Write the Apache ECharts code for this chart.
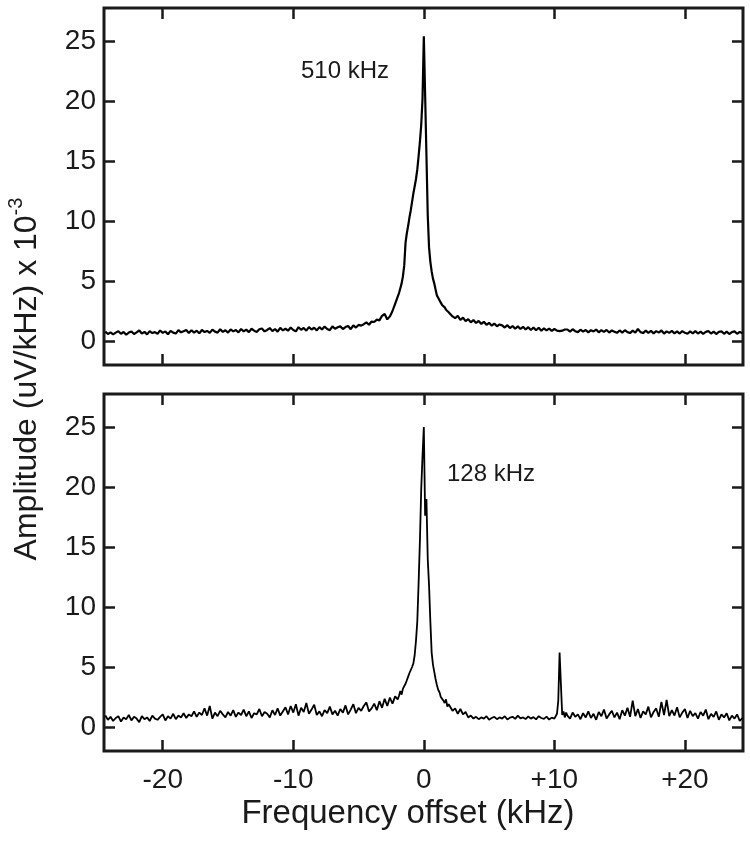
<!DOCTYPE html>
<html>
<head>
<meta charset="utf-8">
<script src="https://cdn.jsdelivr.net/npm/echarts@6/dist/echarts.min.js"></script>
<style>
  html, body { margin: 0; padding: 0; background: #fff; }
  #chart { width: 750px; height: 842px; }
</style>
</head>
<body>
<div id="chart"></div>
<script>
// frequency offset (kHz), finer sampling around the two peaks
const freqKHz = [
  -24.4,-24.2,-24,-23.8,-23.6,-23.4,-23.2,-23,-22.8,-22.6,
  -22.4,-22.2,-22,-21.8,-21.6,-21.4,-21.2,-21,-20.8,-20.6,
  -20.4,-20.2,-20,-19.8,-19.6,-19.4,-19.2,-19,-18.8,-18.6,
  -18.4,-18.2,-18,-17.8,-17.6,-17.4,-17.2,-17,-16.8,-16.6,
  -16.4,-16.2,-16,-15.8,-15.6,-15.4,-15.2,-15,-14.8,-14.6,
  -14.4,-14.2,-14,-13.8,-13.6,-13.4,-13.2,-13,-12.8,-12.6,
  -12.4,-12.2,-12,-11.8,-11.6,-11.4,-11.2,-11,-10.8,-10.6,
  -10.4,-10.2,-10,-9.8,-9.6,-9.4,-9.2,-9,-8.8,-8.6,
  -8.4,-8.2,-8,-7.8,-7.6,-7.4,-7.2,-7,-6.8,-6.6,
  -6.4,-6.2,-6,-5.8,-5.6,-5.4,-5.2,-5,-4.8,-4.6,
  -4.4,-4.2,-4,-3.8,-3.6,-3.4,-3.2,-3,-2.8,-2.6,
  -2.4,-2.2,-2,
  -1.9,-1.8,-1.7,-1.6,-1.5,-1.4,-1.3,-1.2,-1.1,-1,
  -0.9,-0.8,-0.7,-0.6,-0.5,-0.4,-0.3,-0.2,-0.1,0,
  0.1,0.2,0.3,0.4,0.5,0.6,0.7,0.8,0.9,1,
  1.1,1.2,1.3,1.4,1.5,1.6,1.7,1.8,1.9,
  2,2.2,2.4,2.6,2.8,3,3.2,3.4,3.6,3.8,
  4,4.2,4.4,4.6,4.8,5,5.2,5.4,5.6,5.8,
  6,6.2,6.4,6.6,6.8,7,7.2,7.4,7.6,7.8,
  8,8.2,8.4,8.6,8.8,9,9.2,9.4,9.6,9.8,
  10,10.2,
  10.3,10.4,10.5,10.6,10.7,10.8,10.9,
  11,11.2,11.4,11.6,11.8,12,12.2,12.4,12.6,12.8,
  13,13.2,13.4,13.6,13.8,14,14.2,14.4,14.6,14.8,
  15,15.2,15.4,15.6,15.8,16,16.2,16.4,16.6,16.8,
  17,17.2,17.4,17.6,17.8,18,18.2,18.4,18.6,18.8,
  19,19.2,19.4,19.6,19.8,20,20.2,20.4,20.6,20.8,
  21,21.2,21.4,21.6,21.8,22,22.2,22.4,22.6,22.8,
  23,23.2,23.4,23.6,23.8,24,24.2,24.4
];

// 510 kHz spectrum, amplitude x 10^-3
const amp510 = [
  0.78,0.58,0.72,0.55,0.70,0.82,0.60,0.75,0.52,0.70,
  0.80,0.58,0.72,0.88,0.62,0.76,0.55,0.82,0.66,0.74,
  0.60,0.88,0.68,0.80,0.56,0.85,0.70,0.62,0.90,0.72,
  0.82,0.92,0.66,0.90,0.70,0.86,0.64,0.92,0.74,0.84,
  0.68,0.95,0.78,0.70,0.98,0.76,0.90,0.70,0.96,0.80,
  0.92,0.72,1.00,0.80,0.95,0.74,1.02,0.86,0.76,0.98,
  1.04,0.80,0.92,1.08,0.82,1.00,0.78,1.10,0.88,1.02,
  0.86,1.12,0.92,0.80,1.15,0.94,1.08,0.86,1.16,0.96,
  1.10,0.88,1.16,0.96,1.20,1.00,0.90,1.22,1.02,1.14,
  1.22,1.00,1.16,1.26,0.98,1.30,1.12,1.34,1.28,1.40,
  1.55,1.35,1.62,1.58,1.78,1.72,2.10,2.25,1.80,2.05,
  2.5,3.1,3.7,
  4.0,4.4,4.8,5.4,6.3,8.2,9.0,9.6,10.3,10.9,
  11.6,12.3,12.9,13.5,14.3,15.4,16.6,18.0,20.2,25.4,
  20.5,15.5,10.5,7.8,6.6,5.8,5.2,4.8,4.3,3.8,
  3.6,3.4,3.2,3.0,2.9,2.8,2.6,2.5,2.4,
  2.30,2.05,1.90,2.10,1.75,1.95,1.65,1.82,1.55,1.75,
  1.50,1.68,1.42,1.60,1.35,1.52,1.28,1.45,1.22,1.38,
  1.30,1.12,1.32,1.08,1.25,1.02,1.22,1.00,1.18,0.96,
  1.15,0.92,1.12,0.90,1.10,0.85,1.06,0.88,1.04,0.84,
  1.00,0.86,
  0.95,0.82,0.98,0.86,0.80,0.96,0.84,
  0.96,0.78,0.98,0.82,0.74,0.94,0.78,0.92,0.72,0.90,
  0.80,0.95,0.72,0.90,0.76,0.92,0.70,0.88,0.78,0.68,
  0.88,0.70,0.90,0.74,0.66,0.86,0.70,1.00,0.74,0.66,
  0.86,0.68,0.84,0.64,0.82,0.70,0.88,0.62,0.80,0.68,
  0.84,0.64,0.80,0.62,0.82,0.68,0.60,0.80,0.64,0.82,
  0.62,0.78,0.60,0.76,0.82,0.62,0.78,0.58,0.76,0.80,
  0.60,0.78,0.58,0.74,0.80,0.60,0.76,0.64
];

// 128 kHz spectrum, amplitude x 10^-3
const amp128 = [
  0.95,0.60,0.85,0.50,0.75,0.90,0.45,0.80,0.65,1.00,
  0.55,0.85,0.70,0.40,0.90,0.65,0.80,0.50,0.95,0.70,
  0.60,0.85,1.05,0.55,0.90,0.70,1.10,0.65,0.95,0.80,
  1.15,0.75,1.05,0.90,1.30,0.85,1.20,1.00,1.55,0.95,
  1.75,0.70,1.20,0.90,1.35,1.05,0.80,1.25,0.95,1.40,
  0.85,1.20,1.00,1.45,0.90,1.30,0.75,1.15,1.05,1.50,
  0.90,1.25,1.10,0.80,1.40,1.00,1.55,0.95,1.30,1.65,
  1.05,1.75,1.20,1.90,0.95,1.60,1.25,2.00,1.10,1.45,
  1.85,1.00,1.30,0.90,1.40,1.15,1.70,1.05,1.35,0.95,
  1.50,1.20,1.80,1.05,1.45,1.90,1.15,1.60,1.35,1.75,
  2.05,1.30,1.55,1.95,1.40,2.15,1.60,2.35,1.75,2.45,
  1.95,2.55,2.30,
  2.6,3.0,2.7,3.2,3.1,3.6,3.9,4.2,4.5,4.6,
  5.0,5.3,6.0,7.2,8.8,12.0,15.5,19.8,22.6,25.0,
  17.6,19.0,14.0,11.8,8.8,6.2,5.2,4.6,4.0,3.5,
  3.1,2.9,2.5,2.6,2.2,2.0,2.3,1.7,1.9,
  1.80,1.35,1.55,1.10,1.50,1.05,1.25,0.80,0.95,0.70,
  0.85,0.65,0.80,0.70,0.90,0.60,0.75,0.85,0.65,0.80,
  0.70,0.90,0.62,0.78,0.85,0.68,0.95,0.72,0.80,0.66,
  0.88,0.70,0.82,0.64,0.90,0.75,0.68,0.86,0.62,0.78,
  0.70,1.10,
  2.2,6.2,3.6,1.0,1.3,0.8,1.2,
  0.95,0.70,1.20,0.85,1.05,0.65,1.15,0.80,1.30,0.75,
  1.10,0.60,1.25,0.90,1.45,0.70,1.05,1.35,0.80,1.20,
  0.65,1.40,0.95,1.60,0.85,2.20,0.90,1.50,0.75,1.30,
  1.05,1.70,0.80,1.25,1.55,0.85,2.10,1.00,2.25,0.90,
  1.40,0.95,1.65,0.80,1.20,1.50,0.75,1.35,0.90,1.15,
  0.70,1.25,0.95,1.45,0.65,1.10,0.85,1.30,0.60,1.05,
  0.80,1.15,0.55,0.95,0.70,1.05,0.50,0.75
];

const xTicks = [-20, -10, 0, 10, 20];
const yTicks = [0, 5, 10, 15, 20, 25];
const panelLabels = ['510 kHz', '128 kHz'];

const font = '"Liberation Sans", Arial, sans-serif';
const ink = '#1a1a1a';

function xAxis(grid, pos, showLabel) {
  return {
    type: 'value',
    gridIndex: grid,
    position: pos,
    min: -24.5,
    max: 24.45,
    axisLine: { show: false, onZero: false },
    splitLine: { show: false },
    axisTick: { inside: true, length: 11, customValues: xTicks, lineStyle: { color: ink, width: 2.5 } },
    axisLabel: {
      show: showLabel,
      customValues: xTicks,
      margin: 15,
      fontSize: 28,
      fontFamily: font,
      color: ink,
      formatter: v => (v > 0 ? '+' + v : String(v))
    }
  }
}

function yAxis(grid, pos, showLabel) {
  return {
    type: 'value',
    gridIndex: grid,
    position: pos,
    min: -2,
    max: 27.75,
    axisLine: { show: false, onZero: false },
    splitLine: { show: false },
    axisTick: { inside: true, length: 11, customValues: yTicks, lineStyle: { color: ink, width: 2.5 } },
    axisLabel: {
      show: showLabel,
      customValues: yTicks,
      margin: 8,
      fontSize: 28,
      fontFamily: font,
      color: ink
    }
  }
}

const frame = { show: true, borderColor: ink, borderWidth: 3, left: 104, width: 639, height: 357 };

const chart = echarts.init(document.getElementById('chart'));
chart.setOption({
  animation: false,
  backgroundColor: '#fff',
  grid: [
    Object.assign({ top: 8 }, frame),
    Object.assign({ top: 394 }, frame)
  ],
  xAxis: [xAxis(0, 'bottom', false), xAxis(0, 'top', false), xAxis(1, 'bottom', true), xAxis(1, 'top', false)],
  yAxis: [yAxis(0, 'left', true), yAxis(0, 'right', false), yAxis(1, 'left', true), yAxis(1, 'right', false)],
  series: [
    {
      type: 'line',
      xAxisIndex: 0,
      yAxisIndex: 0,
      symbol: 'none',
      lineStyle: { color: '#000', width: 2.2 },
      data: freqKHz.map((f, i) => [f, amp510[i]])
    },
    {
      type: 'line',
      xAxisIndex: 2,
      yAxisIndex: 2,
      symbol: 'none',
      lineStyle: { color: '#000', width: 1.8 },
      data: freqKHz.map((f, i) => [f, amp128[i]])
    }
  ],
  graphic: [
    {
      type: 'text', x: 301, y: 71,
      style: { text: panelLabels[0], font: '24px ' + font, fill: ink, align: 'left', verticalAlign: 'middle' }
    },
    {
      type: 'text', x: 447, y: 474,
      style: { text: panelLabels[1], font: '24px ' + font, fill: ink, align: 'left', verticalAlign: 'middle' }
    },
    {
      type: 'text', x: 408, y: 814,
      style: { text: 'Frequency offset (kHz)', font: '33px ' + font, fill: ink, align: 'center', verticalAlign: 'middle' }
    },
    {
      type: 'text', x: 27, y: 379, rotation: Math.PI / 2,
      style: {
        text: '{main|Amplitude (uV/kHz) x 10}{sup|-3}',
        align: 'center',
        verticalAlign: 'middle',
        fill: ink,
        rich: {
          main: { fontSize: 32, fontFamily: font, lineHeight: 42, fill: ink },
          sup: { fontSize: 20, fontFamily: font, lineHeight: 20, verticalAlign: 'top', fill: ink }
        }
      }
    }
  ]
});
</script>
</body>
</html>
